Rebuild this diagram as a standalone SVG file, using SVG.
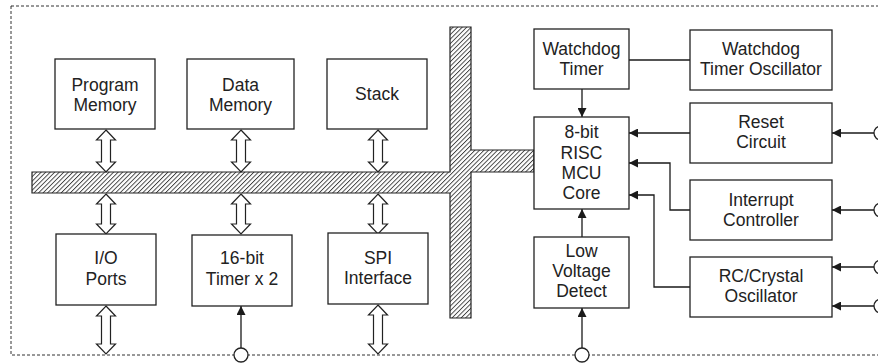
<svg xmlns="http://www.w3.org/2000/svg" width="878" height="364" viewBox="0 0 878 364">
  <defs>
    <pattern id="hatch" width="3.2" height="3.2" patternUnits="userSpaceOnUse" patternTransform="rotate(45)">
      <rect width="3.2" height="3.2" fill="#fff"/>
      <line x1="0.5" y1="0" x2="0.5" y2="3.2" stroke="#222" stroke-width="0.8"/>
    </pattern>
    <marker id="ah" viewBox="0 0 10 10" refX="10" refY="5" markerWidth="9" markerHeight="9" markerUnits="userSpaceOnUse" orient="auto">
      <path d="M0,0 L10,5 L0,10 z" fill="#1a1a1a"/>
    </marker>
  </defs>
  <style>
    .box { fill: #fff; stroke: #222; stroke-width: 1.3; }
    .lbl { font-family: "Liberation Sans", Arial, sans-serif; font-size: 17.5px; fill: #222; text-anchor: middle; }
    .wire { fill: none; stroke: #1a1a1a; stroke-width: 1.3; }
    .arr { marker-end: url(#ah); }
    .dbl { fill: #fff; stroke: #222; stroke-width: 1.2; stroke-linejoin: miter; }
    .pin { fill: #fff; stroke: #222; stroke-width: 1.3; }
    .border { fill: none; stroke: #333; stroke-width: 1; stroke-dasharray: 3 2; }
  </style>

  <!-- chip boundary -->
  <rect class="border" x="11" y="6" width="870" height="349"/>

  <!-- internal data bus -->
  <g id="bus">
    <path d="M450,27 H471 V150 H534 V172 H471 V318 H450 V193 H32 V172 H450 Z" fill="url(#hatch)" stroke="#222" stroke-width="1.2"/>
  </g>

  <g id="connectors">
    <!-- bus transfer arrows (two-way) -->
    <path class="dbl" d="M106,130 l9.5,10 h-5 V162 h5 l-9.5,10 l-9.5,-10 h5 V140 h-5 z"/>
    <path class="dbl" d="M241,130 l9.5,10 h-5 V162 h5 l-9.5,10 l-9.5,-10 h5 V140 h-5 z"/>
    <path class="dbl" d="M378,130 l9.5,10 h-5 V162 h5 l-9.5,10 l-9.5,-10 h5 V140 h-5 z"/>
    <path class="dbl" d="M106,194 l9.5,10 h-5 V224 h5 l-9.5,10 l-9.5,-10 h5 V204 h-5 z"/>
    <path class="dbl" d="M241,194 l9.5,10 h-5 V224 h5 l-9.5,10 l-9.5,-10 h5 V204 h-5 z"/>
    <path class="dbl" d="M378,194 l9.5,10 h-5 V224 h5 l-9.5,10 l-9.5,-10 h5 V204 h-5 z"/>
    <path class="dbl" d="M106,306 l9.5,10 h-5 V344 h5 l-9.5,10 l-9.5,-10 h5 V316 h-5 z"/>
    <path class="dbl" d="M378,305 l9.5,10 h-5 V344 h5 l-9.5,10 l-9.5,-10 h5 V315 h-5 z"/>

    <!-- control signals -->
    <path class="wire" d="M629,60 H690"/>
    <path class="wire arr" d="M582,89 V117"/>
    <path class="wire arr" d="M582,237 V209"/>
    <path class="wire arr" d="M582,348 V308"/>
    <path class="wire arr" d="M241,348 V306"/>
    <path class="wire arr" d="M690,133 H629"/>
    <path class="wire arr" d="M690,210 H670 V163 H629"/>
    <path class="wire arr" d="M690,287 H654 V195 H629"/>
    <path class="wire arr" d="M874,133 H832"/>
    <path class="wire arr" d="M874,210 H832"/>
    <path class="wire arr" d="M874,267 H832"/>
    <path class="wire arr" d="M874,306 H832"/>
  </g>

  <!-- external pins -->
  <g id="pins">
    <circle class="pin" cx="241" cy="355" r="7"/>
    <circle class="pin" cx="582" cy="355" r="7"/>
    <circle class="pin" cx="881" cy="133" r="7"/>
    <circle class="pin" cx="881" cy="210" r="7"/>
    <circle class="pin" cx="881" cy="267" r="7"/>
    <circle class="pin" cx="881" cy="306" r="7"/>
  </g>

  <g id="program-memory">
    <rect class="box" x="55" y="59" width="100" height="70"/>
    <text class="lbl" x="105" y="91">Program</text>
    <text class="lbl" x="105" y="111">Memory</text>
  </g>
  <g id="data-memory">
    <rect class="box" x="187" y="59" width="107" height="70"/>
    <text class="lbl" x="240.5" y="91">Data</text>
    <text class="lbl" x="240.5" y="111">Memory</text>
  </g>
  <g id="stack">
    <rect class="box" x="327" y="59" width="100" height="70"/>
    <text class="lbl" x="377" y="100">Stack</text>
  </g>
  <g id="io-ports">
    <rect class="box" x="56" y="234" width="100" height="71"/>
    <text class="lbl" x="106" y="264">I/O</text>
    <text class="lbl" x="106" y="285">Ports</text>
  </g>
  <g id="timer">
    <rect class="box" x="192" y="235" width="100" height="71"/>
    <text class="lbl" x="242" y="264">16-bit</text>
    <text class="lbl" x="242" y="285">Timer x 2</text>
  </g>
  <g id="spi">
    <rect class="box" x="328" y="233" width="100" height="71"/>
    <text class="lbl" x="378" y="264">SPI</text>
    <text class="lbl" x="378" y="284">Interface</text>
  </g>
  <g id="watchdog-timer">
    <rect class="box" x="534" y="29" width="95" height="60"/>
    <text class="lbl" x="581.5" y="55">Watchdog</text>
    <text class="lbl" x="581.5" y="75">Timer</text>
  </g>
  <g id="mcu-core">
    <rect class="box" x="534" y="117" width="95" height="92"/>
    <text class="lbl" x="581.5" y="138">8-bit</text>
    <text class="lbl" x="581.5" y="159">RISC</text>
    <text class="lbl" x="581.5" y="179">MCU</text>
    <text class="lbl" x="581.5" y="199">Core</text>
  </g>
  <g id="low-voltage-detect">
    <rect class="box" x="534" y="237" width="95" height="71"/>
    <text class="lbl" x="581.5" y="257">Low</text>
    <text class="lbl" x="581.5" y="277">Voltage</text>
    <text class="lbl" x="581.5" y="297">Detect</text>
  </g>
  <g id="wdt-oscillator">
    <rect class="box" x="690" y="30" width="142" height="60"/>
    <text class="lbl" x="761" y="55">Watchdog</text>
    <text class="lbl" x="761" y="75">Timer Oscillator</text>
  </g>
  <g id="reset-circuit">
    <rect class="box" x="690" y="103" width="142" height="60"/>
    <text class="lbl" x="761" y="128">Reset</text>
    <text class="lbl" x="761" y="148">Circuit</text>
  </g>
  <g id="interrupt-controller">
    <rect class="box" x="690" y="180" width="142" height="60"/>
    <text class="lbl" x="761" y="206">Interrupt</text>
    <text class="lbl" x="761" y="226">Controller</text>
  </g>
  <g id="rc-oscillator">
    <rect class="box" x="690" y="257" width="142" height="60"/>
    <text class="lbl" x="761" y="282">RC/Crystal</text>
    <text class="lbl" x="761" y="302">Oscillator</text>
  </g>
</svg>
